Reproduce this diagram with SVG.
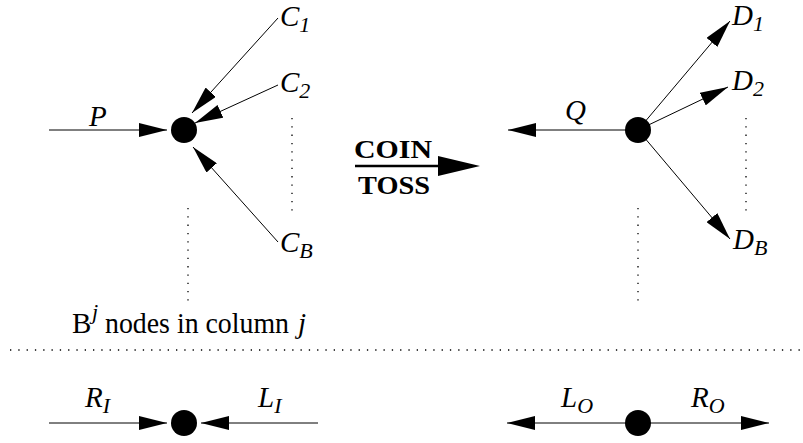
<svg xmlns="http://www.w3.org/2000/svg" width="803" height="443" viewBox="0 0 803 443">
<style>
.ln{stroke:#000;stroke-width:1;fill:none}
.dot{stroke:#000;stroke-width:1.3;fill:none;stroke-dasharray:1.3 7}
.lbl{font-family:"Liberation Serif","Times New Roman",serif;font-style:italic;font-size:29px;fill:#000}
.sub{font-size:22px}
.txt{font-family:"Liberation Serif","Times New Roman",serif;font-size:29px;fill:#000}
.bold{font-family:"Liberation Serif","Times New Roman",serif;font-weight:bold;font-size:25px;fill:#000}
.node{fill:#000}
</style>
<defs>
<marker id="ah" markerUnits="userSpaceOnUse" markerWidth="28" markerHeight="14" refX="28" refY="7" orient="auto" viewBox="0 0 28 14">
<path d="M0,0 L28,7 L0,14 z" fill="#000"/>
</marker>
</defs>
<g id="connectors">
<line class="ln" x1="49" y1="130" x2="167" y2="130" marker-end="url(#ah)"/>
<line class="ln" x1="278" y1="18" x2="192" y2="113" marker-end="url(#ah)"/>
<line class="ln" x1="278" y1="85" x2="195" y2="123" marker-end="url(#ah)"/>
<line class="ln" x1="278" y1="242" x2="193" y2="147" marker-end="url(#ah)"/>
<line class="ln" x1="638" y1="130" x2="508" y2="130" marker-end="url(#ah)"/>
<line class="ln" x1="638" y1="130" x2="730" y2="21" marker-end="url(#ah)"/>
<line class="ln" x1="638" y1="130" x2="728" y2="87" marker-end="url(#ah)"/>
<line class="ln" x1="638" y1="130" x2="730" y2="239" marker-end="url(#ah)"/>
<line class="ln" x1="49" y1="423" x2="167" y2="423" marker-end="url(#ah)"/>
<line class="ln" x1="318" y1="423" x2="201" y2="423" marker-end="url(#ah)"/>
<line class="ln" x1="638" y1="423" x2="507" y2="423" marker-end="url(#ah)"/>
<line class="ln" x1="638" y1="423" x2="769" y2="423" marker-end="url(#ah)"/>
</g>
<g id="dotted">
<line class="dot" x1="292" y1="118" x2="292" y2="212"/>
<line class="dot" x1="188" y1="208" x2="188" y2="302"/>
<line class="dot" x1="746" y1="118" x2="746" y2="212"/>
<line class="dot" x1="638" y1="208" x2="638" y2="302"/>
<line class="dot" x1="10" y1="350" x2="803" y2="350"/>
</g>
<g id="node-left">
<circle class="node" cx="184" cy="130" r="13"/>
</g>
<g id="node-right">
<circle class="node" cx="638" cy="130" r="13"/>
</g>
<g id="node-bottom-left">
<circle class="node" cx="184" cy="423" r="13"/>
</g>
<g id="node-bottom-right">
<circle class="node" cx="638" cy="423" r="13"/>
</g>
<g id="labels">
<text class="lbl" x="89" y="126">P</text>
<text class="lbl" x="280" y="26">C<tspan class="sub" dy="6">1</tspan></text>
<text class="lbl" x="280" y="92">C<tspan class="sub" dy="6">2</tspan></text>
<text class="lbl" x="280" y="252">C<tspan class="sub" dy="6">B</tspan></text>
<text class="lbl" x="565" y="120">Q</text>
<text class="lbl" x="732" y="25">D<tspan class="sub" dy="6">1</tspan></text>
<text class="lbl" x="732" y="90">D<tspan class="sub" dy="6">2</tspan></text>
<text class="lbl" x="733" y="249">D<tspan class="sub" dy="6">B</tspan></text>
<text class="lbl" x="85" y="407">R<tspan class="sub" dy="6">I</tspan></text>
<text class="lbl" x="258" y="407">L<tspan class="sub" dy="6">I</tspan></text>
<text class="lbl" x="561" y="407">L<tspan class="sub" dy="6">O</tspan></text>
<text class="lbl" x="691" y="407">R<tspan class="sub" dy="6">O</tspan></text>
<text class="txt" x="72" y="333">B<tspan class="sub" font-style="italic" x="92" dy="-14">j</tspan><tspan x="105" dy="14" textLength="184" lengthAdjust="spacingAndGlyphs">nodes in column</tspan><tspan font-style="italic" x="298">j</tspan></text>
</g>
<g id="coin-toss">
<text class="bold" x="354" y="158" textLength="78" lengthAdjust="spacingAndGlyphs">COIN</text>
<line x1="355" y1="166" x2="440" y2="166" stroke="#000" stroke-width="2.5"/>
<polygon points="438,156 480,166 438,176" fill="#000"/>
<text class="bold" x="358" y="194" textLength="72" lengthAdjust="spacingAndGlyphs">TOSS</text>
</g>
</svg>
